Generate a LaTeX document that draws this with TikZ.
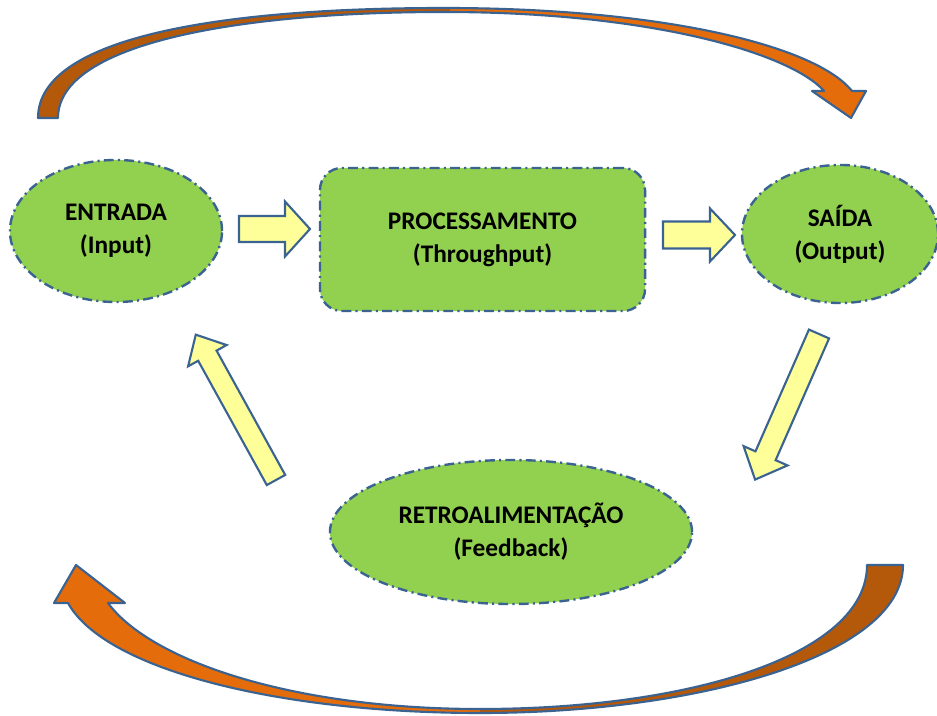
\documentclass[tikz,border=0pt]{standalone}
\usepackage{fontspec}
\setmainfont{Carlito}
\usepackage{tikz}
\usetikzlibrary{shapes.geometric, calc}

\definecolor{leafgreen}{HTML}{92D050}
\definecolor{slateblue}{HTML}{3B6392}
\definecolor{paleyellow}{HTML}{FFFF99}
\definecolor{rustorange}{HTML}{B4580A}
\definecolor{brightorange}{HTML}{E46C0A}

% block arrow: tail, angle, length, shaft half width, head half width, head length
\newcommand\fatarrow[6]{%
  \begin{scope}[shift={#1}, rotate=#2]
    \draw[fatarr] (0,-#4) -- ({#3-#6},-#4) -- ({#3-#6},-#5) -- (#3,0)
      -- ({#3-#6},#5) -- ({#3-#6},#4) -- (0,#4) -- cycle;
  \end{scope}}

\begin{document}
\begin{tikzpicture}[
    x=0.025cm, y=0.025cm,
    phasenode/.style={ellipse, draw=slateblue, fill=leafgreen, line width=1.7pt,
      dash pattern=on 7pt off 3pt on 1.5pt off 3pt, inner sep=0pt, align=center,
      font=\fontsize{18}{23.5}\selectfont\bfseries},
    procbox/.style={rectangle, rounded corners=0.55cm, draw=slateblue, fill=leafgreen, line width=1.7pt,
      dash pattern=on 7pt off 3pt on 1.5pt off 3pt, inner sep=0pt, align=center,
      font=\fontsize{18}{23.5}\selectfont\bfseries},
    fatarr/.style={draw=slateblue, fill=paleyellow, line width=1.5pt, line join=miter},
    band/.style={draw=slateblue, line width=1.5pt, line join=round}
]
    \useasboundingbox (0,0) rectangle (937,715);

    % the three stages and the feedback
    \node[phasenode, minimum width=5.3cm, minimum height=3.55cm] (entrada) at (116,484) {ENTRADA\\(Input)};
    \node[procbox, minimum width=8.125cm, minimum height=3.575cm] (proc) at (482.5,475.5) {PROCESSAMENTO\\(Throughput)};
    \node[phasenode, minimum width=4.9cm, minimum height=3.45cm] (saida) at (840,481) {SAÍDA\\(Output)};
    \node[phasenode, minimum width=9.05cm, minimum height=3.6cm] (retro) at (511,183) {RETROALIMENTAÇÃO\\(Feedback)};

    % block arrows
    \coordinate (t1) at (239,486);
    \coordinate (t2) at (663,480);
    \coordinate (t3) at (819,381);
    \coordinate (t4) at (276,235);
    \fatarrow{(t1)}{0}{71}{13}{27.5}{25}
    \fatarrow{(t2)}{0}{72}{13.5}{26.5}{25}
    \fatarrow{(t3)}{246.3}{159}{11}{24}{26}
    \fatarrow{(t4)}{118.9}{166}{10.5}{22}{24}

    % curved arrows
    \def\toparc{(38,597) .. controls (38,680) and (230,707) .. (444,707)
      .. controls (660,707) and (815,670) .. (852,624) -- (866,624) -- (851,597)
      -- (812,624) -- (824,624) .. controls (790,662) and (650,703) .. (444,703)
      .. controls (240,703) and (58,672) .. (58,597) -- cycle}
    \def\bottomarc{(903,150) .. controls (903,60) and (700,2) .. (480,2)
      .. controls (280,2) and (105,45) .. (68,112) -- (54,112) -- (76,150)
      -- (125,112) -- (108,112) .. controls (150,55) and (290,6) .. (480,6)
      .. controls (690,6) and (867,60) .. (867,150) -- cycle}

    \fill[brightorange] \toparc;
    \begin{scope}
      \clip \toparc;
      \fill[rustorange] (0,560) rectangle (450,715);
    \end{scope}
    \draw[band] \toparc;

    \fill[brightorange] \bottomarc;
    \begin{scope}
      \clip \bottomarc;
      \fill[rustorange] (480,0) rectangle (937,160);
    \end{scope}
    \draw[band] \bottomarc;
\end{tikzpicture}
\end{document}
